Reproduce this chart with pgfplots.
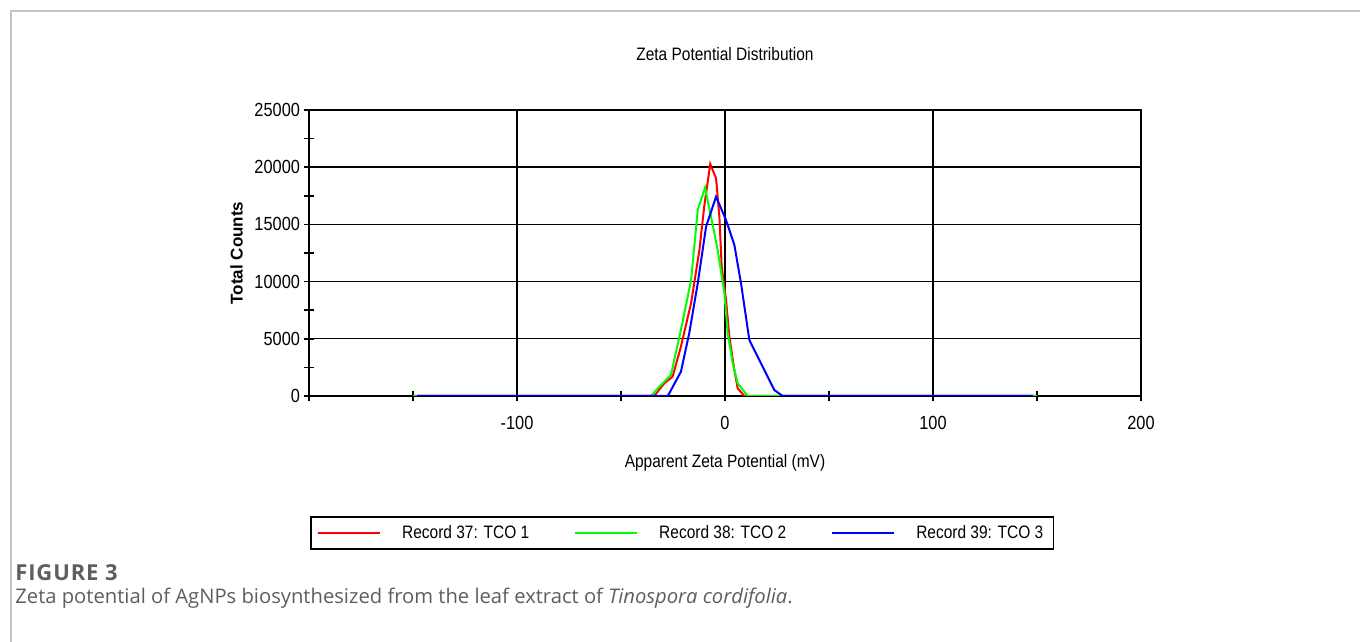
\documentclass[border=0pt]{standalone}
\usepackage{fontspec}
\usepackage{pgfplots}
\pgfplotsset{compat=1.18}
\setmainfont{Liberation Sans}
\newfontfamily\chartfont[FakeStretch=0.86]{Liberation Sans}
\newfontfamily\capfont{Open Sans}
\newfontfamily\figfont[LetterSpace=4]{Open Sans}
\definecolor{capgray}{HTML}{5E5E5E}
\definecolor{framegray}{HTML}{C4C4C4}
\definecolor{zred}{HTML}{FF0000}
\definecolor{zgreen}{HTML}{00FF00}
\definecolor{zblue}{HTML}{0000FF}

\begin{document}
\begin{tikzpicture}
\path[use as bounding box] (0,0) rectangle (680pt,321pt);
\draw[framegray, line width=0.8pt] (5.5pt,0) -- (5.5pt,315.5pt) -- (680pt,315.5pt);

\begin{axis}[
    at={(154.5pt,123pt)}, anchor=south west,
    scale only axis, width=416pt, height=143pt,
    xmin=-200, xmax=200, ymin=0, ymax=25000,
    xtick={-200,-100,0,100,200},
    xticklabels={,-100,0,100,200},
    ytick={0,5000,10000,15000,20000,25000},
    scaled y ticks=false,
    minor x tick num=1, minor y tick num=1,
    tick pos=left, tick align=center,
    major tick length=5pt, minor tick length=5pt,
    every tick/.style={black, line width=0.8pt},
    grid=major,
    major grid style={black, line width=0.7pt},
    axis line style={black, line width=0.9pt},
    tick label style={font=\chartfont\fontsize{9.5}{10}\selectfont},
    /pgf/number format/assume math mode=true,
    /pgf/number format/set thousands separator={},
    xticklabel style={yshift=-4pt},
    yticklabel style={xshift=1.5pt},
    xlabel={Apparent Zeta Potential (mV)},
    xlabel style={font=\chartfont\fontsize{9}{10}\selectfont, yshift=-5.5pt},
    ylabel={\textbf{Total Counts}},
    ylabel style={font=\fontsize{8.5}{10}\selectfont, yshift=-1pt},
    title={Zeta Potential Distribution},
    title style={font=\chartfont\fontsize{9}{10}\selectfont, yshift=15pt},
    legend style={
        at={(axis description cs:0.0012,-0.5385)}, anchor=south west,
        draw=black, line width=0.8pt, inner xsep=3pt, inner ysep=2pt,
        font=\chartfont\fontsize{9}{10}\selectfont,
        /tikz/every even column/.append style={column sep=20.3pt},
        /tikz/every odd column/.append style={column sep=9pt},
    },
    legend columns=3,
    legend cell align=left,
    legend image code/.code={\draw[#1, line width=0.7pt] (0pt,0pt) -- (31pt,0pt);},
]
\addplot[zred, line width=1pt] coordinates {
    (-150,0) (-34,0) (-29.2,1110) (-25.2,1690) (-21.2,4310) (-16.3,8130)
    (-12.3,12760) (-10,16550) (-7.1,20280) (-4.3,19030) (-2.7,15670)
    (-1.6,11300) (0.5,8390) (2.1,5180) (4.5,2270) (6.1,670) (9.3,0) (150,0)
};
\addlegendentry{Record 37: TCO 1}
\addplot[zgreen, line width=1pt] coordinates {
    (-150,0) (-35.6,0) (-31.6,810) (-26,1840) (-21.2,5770) (-16.3,10140)
    (-13.1,16260) (-9.6,18210) (-6.7,15670) (-3.5,12760) (-0.3,8980)
    (1.3,5480) (3.7,2860) (6.1,1110) (10.9,0) (150,0)
};
\addlegendentry{Record 38: TCO 2}
\addplot[zblue, line width=1pt] coordinates {
    (-148,0) (-27.5,0) (-21.2,2120) (-17.2,5480) (-13.1,9850) (-9.1,14800)
    (-4.3,17420) (0.5,15380) (4.5,13200) (7.7,9850) (11.7,4900)
    (15.7,3440) (19.7,1980) (23.7,520) (27.7,0) (148,0)
};
\addlegendentry{Record 39: TCO 3}
\end{axis}

\node[anchor=west, inner sep=0pt, text=capgray, font=\figfont\fontsize{11}{12}\selectfont\bfseries] at (7.5pt,34.5pt) {FIGURE 3};
\node[anchor=west, inner sep=0pt, text=capgray, font=\capfont\fontsize{10.1}{12}\selectfont] at (7.5pt,22pt) {Zeta potential of AgNPs biosynthesized from the leaf extract of \textit{Tinospora cordifolia}.};
\end{tikzpicture}
\end{document}
